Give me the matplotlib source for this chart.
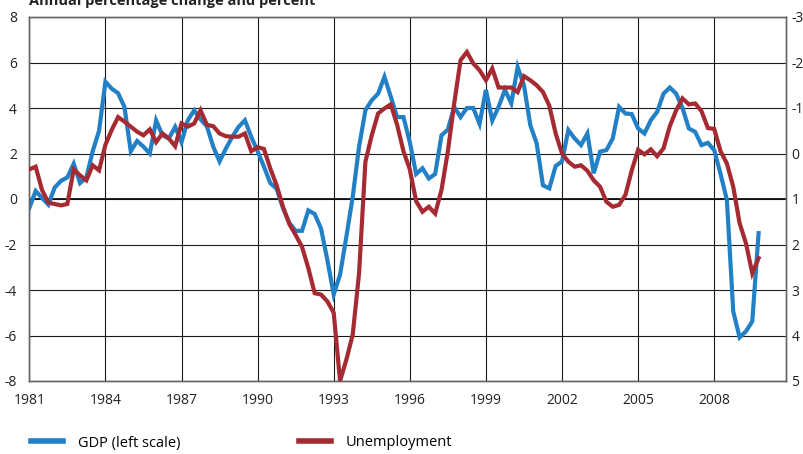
import matplotlib
matplotlib.use("Agg")
import matplotlib.pyplot as plt
import numpy as np

plt.rcParams['font.family'] = ['Open Sans', 'DejaVu Sans']
plt.rcParams['axes.unicode_minus'] = False

# Quarterly data, 1981Q1 - 2009Q4
gdp = [-0.4, 0.35, 0.05, -0.25, 0.5, 0.8, 0.95, 1.55, 0.7, 0.95,
       2.1, 3.0, 5.15, 4.85, 4.65, 4.05, 2.1, 2.55, 2.3, 2.0,
       3.45, 2.8, 2.66, 3.17, 2.5, 3.46, 3.9, 3.5, 3.2, 2.3,
       1.65, 2.22, 2.73, 3.17, 3.46, 2.73, 2.1, 1.42, 0.7, 0.45,
       -0.4, -1.05, -1.4, -1.4, -0.5, -0.66, -1.3, -2.68, -4.2, -3.33,
       -1.65, 0.1, 2.3, 3.9, 4.34, 4.63, 5.37, 4.5, 3.6, 3.6,
       2.5, 1.1, 1.35, 0.9, 1.1, 2.8, 3.05, 4.05, 3.6, 4.0,
       4.0, 3.3, 4.8, 3.45, 4.05, 4.8, 4.2, 5.8, 5.0, 3.25,
       2.45, 0.6, 0.47, 1.45, 1.65, 3.03, 2.66, 2.37, 2.88, 1.13,
       2.08, 2.15, 2.66, 4.05, 3.76, 3.73, 3.1, 2.88, 3.46, 3.83,
       4.63, 4.9, 4.63, 4.0, 3.1, 2.95, 2.37, 2.47, 2.15, 1.1,
       -0.04, -4.94, -6.08, -5.82, -5.38, -1.5]

# unemployment, right scale (inverted)
unemp = [0.35, 0.29, 0.8, 1.08, 1.11, 1.14, 1.11, 0.35, 0.48, 0.59,
         0.26, 0.37, -0.19, -0.52, -0.8, -0.7, -0.59, -0.48, -0.4, -0.53,
         -0.25, -0.44, -0.33, -0.16, -0.66, -0.59, -0.66, -0.95, -0.63, -0.6,
         -0.44, -0.38, -0.37, -0.37, -0.44, -0.05, -0.14, -0.1, 0.33, 0.7,
         1.17, 1.55, 1.79, 2.05, 2.52, 3.07, 3.1, 3.25, 3.5, 5.0,
         4.53, 3.98, 2.63, 0.18, -0.4, -0.88, -0.99, -1.08, -0.63, -0.05,
         0.35, 1.05, 1.28, 1.17, 1.32, 0.8, -0.05, -1.1, -2.05, -2.23,
         -1.98, -1.83, -1.61, -1.87, -1.45, -1.45, -1.45, -1.35, -1.7, -1.61,
         -1.5, -1.35, -1.05, -0.44, 0.0, 0.18, 0.29, 0.26, 0.38, 0.59,
         0.73, 1.06, 1.17, 1.13, 0.91, 0.37, -0.08, 0.02, -0.09, 0.06,
         -0.11, -0.6, -0.95, -1.21, -1.08, -1.1, -0.93, -0.56, -0.54, -0.05,
         0.22, 0.73, 1.53, 1.97, 2.63, 2.3]

dates = 1981 + np.arange(len(gdp)) / 4
year_ticks = list(range(1981, 2009, 3))
left_ticks = list(range(-8, 9, 2))
right_ticks = list(range(-3, 6))

blue = '#2280c6'
red = '#a62a32'

fig = plt.figure(figsize=(8.04, 4.54), dpi=100)
ax = fig.add_axes([29.3 / 804, 1 - 381 / 454, (786 - 29.3) / 804, (381 - 17) / 454])

ax.plot(dates, gdp, color=blue, lw=3, solid_joinstyle='miter', zorder=3)
ax.set_xlim(1981, 2010.83)
ax.set_ylim(-8, 8)
ax.set_xticks(year_ticks)
ax.set_yticks(left_ticks)
ax.grid(True, color='#1a1a1a', lw=0.8)
ax.axhline(0, color='#111111', lw=1.3, zorder=2)
ax.tick_params(axis='both', length=0, labelsize=10, colors='#222222')
ax.tick_params(axis='x', pad=9)
ax.tick_params(axis='y', pad=9)

ax2 = ax.twinx()
ax2.plot(dates, unemp, color=red, lw=3, solid_joinstyle='miter', zorder=3)
ax2.set_ylim(5, -3)
ax2.set_yticks(right_ticks)
ax2.tick_params(axis='y', length=0, labelsize=10, pad=4, colors='#222222')

for a in (ax, ax2):
    for s in a.spines.values():
        s.set_color('#666666')
        s.set_linewidth(1.0)

fig.text(29 / 804, 1 - 5 / 454, 'Annual percentage change and percent',
         fontsize=10.5, fontweight='bold', color='#222222', va='baseline', ha='left')

h1, = ax.plot([], [], color=blue, lw=4)
h2, = ax.plot([], [], color=red, lw=4)
leg_kw = dict(loc='center left', frameon=False, fontsize=10.5, handlelength=2.2,
              handletextpad=1.0, borderpad=0, borderaxespad=0)
fig.legend([h1], ['GDP (left scale)'], bbox_to_anchor=(31 / 804, 1 - 443 / 454), **leg_kw)
fig.legend([h2], ['Unemployment'], bbox_to_anchor=(299 / 804, 1 - 443 / 454), **leg_kw)

fig.savefig('out.png', dpi=100)
